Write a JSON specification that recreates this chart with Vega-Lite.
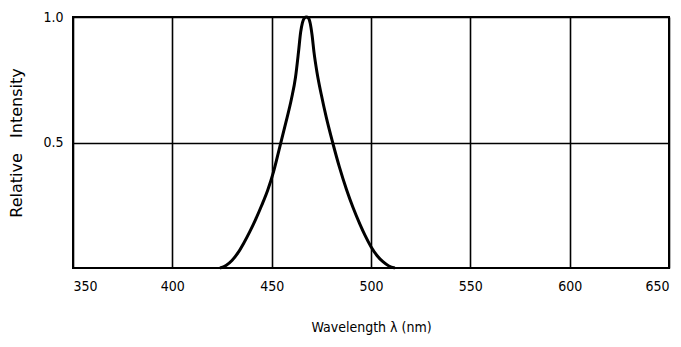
{
  "$schema": "https://vega.github.io/schema/vega-lite/v6.json",
  "width": 596,
  "height": 251,
  "autosize": {"type": "none"},
  "padding": {"left": 73, "top": 17, "right": 12, "bottom": 79},
  "background": "white",
  "config": {
    "view": {"stroke": "black", "strokeWidth": 2},
    "axis": {
      "grid": true,
      "gridColor": "black",
      "gridOpacity": 1,
      "gridWidth": 1.6,
      "domain": false,
      "ticks": false,
      "labelFont": "DejaVu Sans Condensed, Liberation Sans Narrow, Roboto, sans-serif",
      "labelFontSize": 14,
      "labelColor": "black",
      "titleColor": "black",
      "titleFontWeight": "normal"
    }
  },
  "data": {
    "values": [
      {"wl": 424, "ri": 0},
      {"wl": 427, "ri": 0.01},
      {"wl": 430, "ri": 0.03},
      {"wl": 433, "ri": 0.06},
      {"wl": 436, "ri": 0.1},
      {"wl": 439, "ri": 0.145},
      {"wl": 442, "ri": 0.195},
      {"wl": 445, "ri": 0.25},
      {"wl": 448, "ri": 0.31},
      {"wl": 451, "ri": 0.385},
      {"wl": 454, "ri": 0.48},
      {"wl": 457, "ri": 0.575},
      {"wl": 460, "ri": 0.675},
      {"wl": 462, "ri": 0.76},
      {"wl": 463.5, "ri": 0.86},
      {"wl": 464.6, "ri": 0.94},
      {"wl": 465.5, "ri": 0.978},
      {"wl": 466.5, "ri": 0.996},
      {"wl": 467.5, "ri": 1.0},
      {"wl": 468.5, "ri": 0.996},
      {"wl": 469.4, "ri": 0.975},
      {"wl": 470.3, "ri": 0.93},
      {"wl": 471.3, "ri": 0.86},
      {"wl": 472.8, "ri": 0.78},
      {"wl": 475, "ri": 0.69},
      {"wl": 477.5, "ri": 0.6},
      {"wl": 480.7, "ri": 0.5},
      {"wl": 484, "ri": 0.405},
      {"wl": 487.7, "ri": 0.312},
      {"wl": 491, "ri": 0.24},
      {"wl": 494.4, "ri": 0.175},
      {"wl": 497, "ri": 0.13},
      {"wl": 500, "ri": 0.085},
      {"wl": 503, "ri": 0.05},
      {"wl": 506, "ri": 0.025},
      {"wl": 509, "ri": 0.008},
      {"wl": 512, "ri": 0}
    ]
  },
  "mark": {"type": "line", "color": "black", "strokeWidth": 3, "interpolate": "monotone"},
  "encoding": {
    "x": {
      "field": "wl",
      "type": "quantitative",
      "scale": {"domain": [350, 650], "nice": false, "zero": false},
      "axis": {
        "values": [350, 400, 450, 500, 550, 600, 650],
        "labelPadding": 11,
        "title": "Wavelength λ (nm)",
        "titleFont": "DejaVu Sans Condensed, Liberation Sans Narrow, Roboto, sans-serif",
        "titleFontSize": 14,
        "titlePadding": 27
      }
    },
    "y": {
      "field": "ri",
      "type": "quantitative",
      "scale": {"domain": [0, 1], "nice": false},
      "axis": {
        "values": [0.5, 1.0],
        "format": ".1f",
        "labelPadding": 10,
        "title": "Relative\u00a0\u00a0\u00a0Intensity",
        "titleFont": "DejaVu Sans",
        "titleFontSize": 16,
        "titlePadding": 18
      }
    }
  }
}
